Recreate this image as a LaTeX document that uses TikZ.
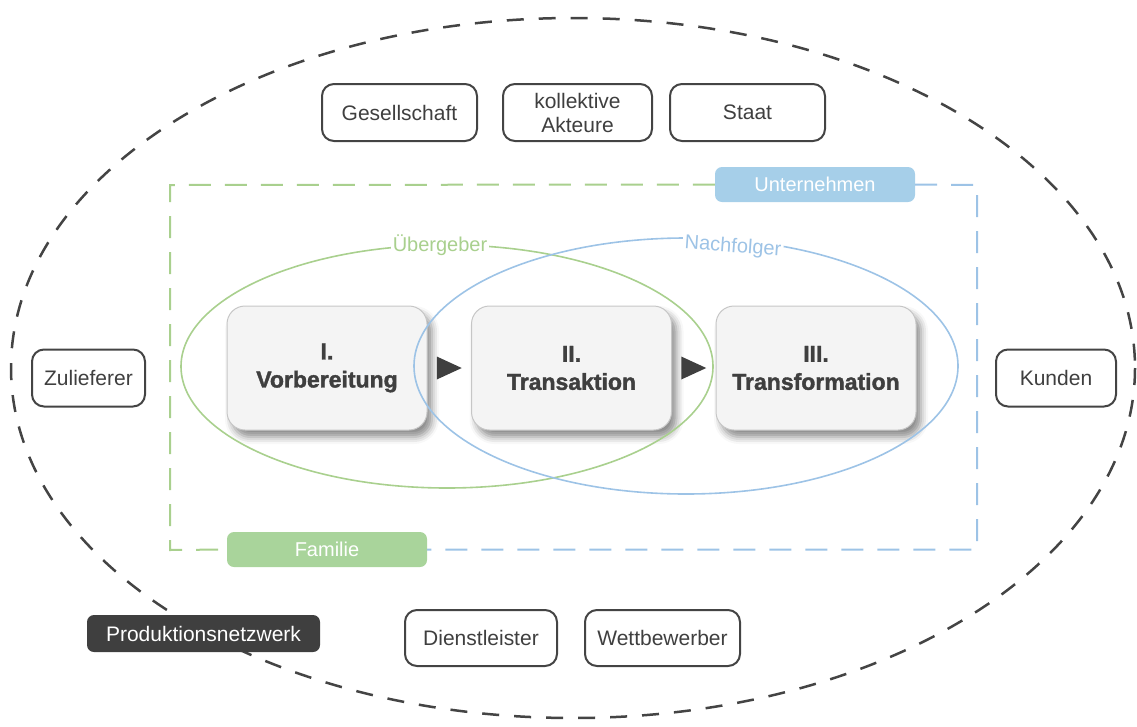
\documentclass[tikz,border=0pt]{standalone}
\usepackage{fontspec}
\setmainfont{Liberation Sans}
\newfontface\fett[FakeBold=1.6]{Liberation Sans Bold}
\usetikzlibrary{shadows.blur,calc,positioning}
\definecolor{umfeld}{HTML}{444444}
\definecolor{dunkel}{HTML}{3F3F3F}
\definecolor{gruen}{HTML}{A9D08E}
\definecolor{blau}{HTML}{9DC3E6}
\definecolor{gruenfill}{HTML}{A9D49B}
\definecolor{blaufill}{HTML}{A6CFE9}
\definecolor{phase}{HTML}{F4F4F4}

\tikzset{
  akteur/.style={draw=umfeld, line width=2pt, rounded corners=12pt, fill=white,
    text=dunkel, align=center, font=\fontsize{21}{24}\selectfont,
    minimum height=57pt, inner sep=0pt},
  phasebox/.style={draw=gray!45, line width=1pt, rounded corners=18pt, fill=phase,
    minimum width=200pt, minimum height=124pt, align=center, text=dunkel,
    font=\fett\fontsize{23}{28}\selectfont,
    blur shadow={shadow xshift=5pt, shadow yshift=-7pt, shadow blur radius=7pt, shadow opacity=45}},
  etikett/.style={rounded corners=7pt, minimum width=200pt, minimum height=35pt,
    text=white, font=\fontsize{20}{22}\selectfont, inner sep=0pt},
  rahmen/.style={line width=2pt, dash pattern=on 22pt off 14pt},
  kreis/.style={line width=1.6pt}
}

\begin{document}
\begin{tikzpicture}[x=1pt,y=-1pt]
  \useasboundingbox (0,0) rectangle (1137,726);

  % Umfeld
  \draw[umfeld, line width=2.5pt, dash pattern=on 17pt off 15pt] (573,368) ellipse [x radius=562, y radius=350];

  \node[akteur, minimum width=155pt] (ges) at (399.5,112.5) {Gesellschaft};
  \node[akteur, minimum width=149pt] (kol) at (577.5,112.5) {kollektive\\Akteure};
  \node[akteur, minimum width=155pt] (sta) at (747.5,112.5) {Staat};
  \node[akteur, minimum width=113pt] (zul) at (88.5,378) {Zulieferer};
  \node[akteur, minimum width=120pt] (kun) at (1056,378) {Kunden};
  \node[akteur, minimum width=152pt, minimum height=56pt] (die) at (481,638) {Dienstleister};
  \node[akteur, minimum width=155pt, minimum height=56pt] (wet) at (662.5,638) {Wettbewerber};
  \node[etikett, fill=dunkel, minimum width=233pt, minimum height=37pt, font=\fontsize{21}{24}\selectfont] (pro) at (203.5,633.5) {Produktionsnetzwerk};

  % Unternehmen / Familie
  \node[etikett, fill=blaufill] (unt) at (815,184.5) {Unternehmen};
  \node[etikett, fill=gruenfill] (fam) at (327,549.5) {Familie};
  \draw[rahmen, gruen] (unt.west) -- (170,185) -- (170,550) -- (fam.west);
  \draw[rahmen, blau] (unt.east) -- (977,185) |- (fam.east);

  % Phasen
  \node[phasebox] (ph1) at (327,368) {I.\\Vorbereitung};
  \node[phasebox] (ph2) at (571.5,368) {II.\\Transaktion};
  \node[phasebox] (ph3) at (816,368) {III.\\Transformation};

  \foreach \a/\b in {ph1/ph2, ph2/ph3}
    \fill[dunkel] ($(\a.east)!0.5!(\b.west)$) ++(-12.5,-11.5) -- ++(25,11.5) -- ++(-25,11.5) -- cycle;

  % Übergeber / Nachfolger
  \draw[kreis, gruen] (447,366.5) ellipse [x radius=266, y radius=121.5];
  \draw[kreis, blau] (686,366) ellipse [x radius=272, y radius=128];
  \node[fill=white, text=gruen, inner sep=2pt, font=\fontsize{20}{22}\selectfont] (ueb) at (440,245) {Übergeber};
  \node[fill=white, text=blau, inner sep=2pt, rotate=-4, font=\fontsize{20}{22}\selectfont] (nac) at (733,247) {Nachfolger};
\end{tikzpicture}
\end{document}
